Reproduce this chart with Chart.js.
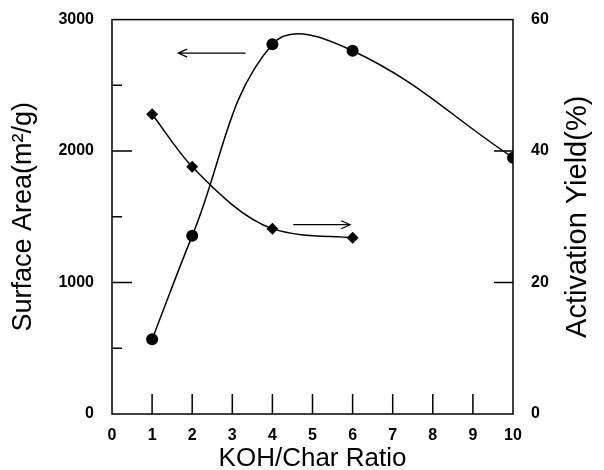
<!DOCTYPE html>
<html>
<head>
<meta charset="utf-8">
<script src="https://cdn.jsdelivr.net/npm/chart.js@4.4.0/dist/chart.umd.min.js"></script>
<style>
  html, body { margin: 0; padding: 0; background: #fff; }
  #wrap { width: 604px; height: 470px; }
</style>
</head>
<body>
<div id="wrap"><canvas id="chart" width="604" height="470"></canvas></div>
<script>
// values
const ratios = [1, 2, 4, 6, 10];
const surfaceArea = [568, 1355, 2813, 2763, 1950];
const yieldRatios = [1, 2, 4, 6];
const activationYield = [45.6, 37.6, 28.2, 26.8];

// axes
const xTicks = [0, 1, 2, 3, 4, 5, 6, 7, 8, 9, 10];
const areaTicks = [0, 1000, 2000, 3000];
const areaMinorTicks = [500, 1500, 2500];
const yieldTicks = [0, 20, 40, 60];

// arrows telling which axis each curve belongs to (data units)
const areaArrow = { from: 3.33, to: 1.65, at: 2745 };
const yieldArrow = { from: 4.52, to: 5.94, at: 28.8 };

const FONT = '"Liberation Sans", Arial, Helvetica, sans-serif';
Chart.defaults.font.family = FONT;
Chart.defaults.color = '#000';

const toPoints = (xs, ys) => xs.map((x, i) => ({ x: x, y: ys[i] }));
const plain = v => String(v);
const tickFont = { size: 16, weight: 'bold' };

// frame, inward tick marks, arrows and the right-hand title
const decorations = {
    id: 'decorations',
    afterDraw(chart) {
        const ctx = chart.ctx;
        const area = chart.chartArea;
        const sx = chart.scales.x;
        const sa = chart.scales.yArea;
        const sy = chart.scales.yYield;

        ctx.save();
        ctx.strokeStyle = '#000';
        ctx.lineWidth = 1.5;
        ctx.strokeRect(area.left, area.top, area.right - area.left, area.bottom - area.top);

        ctx.beginPath();
        xTicks.slice(1, -1).forEach(v => {
            const px = sx.getPixelForValue(v);
            ctx.moveTo(px, area.bottom);
            ctx.lineTo(px, area.bottom - 20);
        });
        areaTicks.slice(1, -1).forEach(v => {
            const py = sa.getPixelForValue(v);
            ctx.moveTo(area.left, py);
            ctx.lineTo(area.left + 20, py);
        });
        areaMinorTicks.forEach(v => {
            const py = sa.getPixelForValue(v);
            ctx.moveTo(area.left, py);
            ctx.lineTo(area.left + 10, py);
        });
        yieldTicks.slice(1, -1).forEach(v => {
            const py = sy.getPixelForValue(v);
            ctx.moveTo(area.right, py);
            ctx.lineTo(area.right - 19, py);
        });
        ctx.stroke();

        const arrow = (x1, x2, y) => {
            const dir = x2 > x1 ? 1 : -1;
            ctx.beginPath();
            ctx.moveTo(x1, y);
            ctx.lineTo(x2, y);
            ctx.moveTo(x2 - dir * 9, y - 4);
            ctx.lineTo(x2, y);
            ctx.lineTo(x2 - dir * 9, y + 4);
            ctx.stroke();
        };
        ctx.lineWidth = 1.2;
        arrow(sx.getPixelForValue(areaArrow.from), sx.getPixelForValue(areaArrow.to), sa.getPixelForValue(areaArrow.at));
        arrow(sx.getPixelForValue(yieldArrow.from), sx.getPixelForValue(yieldArrow.to), sy.getPixelForValue(yieldArrow.at));

        // right title reads bottom to top like the left one
        ctx.translate(578, (area.top + area.bottom) / 2);
        ctx.rotate(-Math.PI / 2);
        ctx.font = '29px ' + FONT;
        ctx.fillStyle = '#000';
        ctx.textAlign = 'center';
        ctx.textBaseline = 'middle';
        ctx.fillText('Activation Yield(%)', 0, 0);
        ctx.restore();
    }
};

new Chart(document.getElementById('chart'), {
    type: 'line',
    data: {
        datasets: [{
            label: 'Surface Area',
            data: toPoints(ratios, surfaceArea),
            yAxisID: 'yArea',
            borderColor: '#000',
            backgroundColor: '#000',
            borderWidth: 1.5,
            tension: 0.4,
            pointStyle: 'circle',
            pointRadius: 6,
            pointBorderWidth: 0
        }, {
            label: 'Activation Yield',
            data: toPoints(yieldRatios, activationYield),
            yAxisID: 'yYield',
            borderColor: '#000',
            backgroundColor: '#000',
            borderWidth: 1.5,
            cubicInterpolationMode: 'monotone',
            pointStyle: 'rectRot',
            pointRadius: 6,
            pointBorderWidth: 0
        }]
    },
    options: {
        responsive: false,
        animation: false,
        devicePixelRatio: 1,
        layout: { padding: { top: 18, left: 0, right: 0, bottom: 0 } },
        plugins: { legend: { display: false }, tooltip: { enabled: false } },
        scales: {
            x: {
                type: 'linear',
                min: 0,
                max: 10,
                afterFit: s => { s.height = 56; },
                afterBuildTicks: s => { s.ticks = xTicks.map(v => ({ value: v })); },
                grid: { display: false },
                border: { display: false },
                ticks: { padding: 4, font: tickFont, maxRotation: 0, callback: plain },
                title: {
                    display: true,
                    text: 'KOH/Char Ratio',
                    font: { size: 26, lineHeight: 1 },
                    padding: { top: 0, bottom: -2 }
                }
            },
            yArea: {
                type: 'linear',
                position: 'left',
                min: 0,
                max: 3000,
                afterFit: s => { s.width = 112; },
                afterBuildTicks: s => { s.ticks = areaTicks.map(v => ({ value: v })); },
                grid: { display: false },
                border: { display: false },
                ticks: { padding: 10, font: tickFont, callback: plain },
                title: {
                    display: true,
                    text: 'Surface Area(m\u00b2/g)',
                    font: { size: 27, lineHeight: 1 },
                    padding: { top: 10, bottom: 0 }
                }
            },
            yYield: {
                type: 'linear',
                position: 'right',
                min: 0,
                max: 60,
                afterFit: s => { s.width = 91; },
                afterBuildTicks: s => { s.ticks = yieldTicks.map(v => ({ value: v })); },
                grid: { display: false },
                border: { display: false },
                ticks: { padding: 10, font: tickFont, callback: plain }
            }
        }
    },
    plugins: [decorations]
});
</script>
</body>
</html>
